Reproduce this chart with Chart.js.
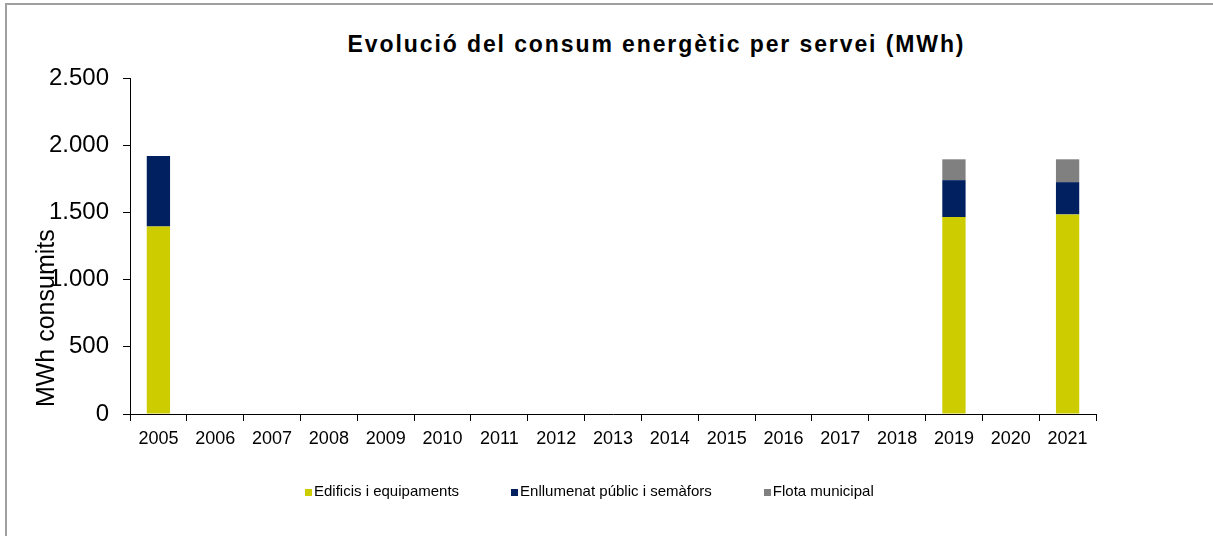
<!DOCTYPE html>
<html lang="ca">
<head>
<meta charset="UTF-8">
<title>Evolució del consum energètic per servei</title>
<script src="https://cdn.jsdelivr.net/npm/chart.js"></script>
<style>
    html, body { margin: 0; padding: 0; background: #fff; }
    #wrap { position: relative; width: 1213px; height: 536px; overflow: hidden; }
    #frame { position: absolute; left: 5px; top: 3px; width: 1300px; height: 600px;
             border-top: 2px solid #a0a0a0; border-left: 2px solid #a0a0a0; }
    #title { position: absolute; top: 31px; left: 0; width: 1313px; text-align: center;
             font: bold 23px "Liberation Sans", Arial, sans-serif; letter-spacing: 1.9px; color: #000; }
    #box { position: absolute; left: 0; top: 0; width: 1213px; height: 536px; }
    #legend { position: absolute; left: 305px; top: 482px; display: flex;
              font: 15px "Liberation Sans", Arial, sans-serif; color: #000; }
    #legend span.item { display: flex; align-items: center; margin-right: 52px; white-space: nowrap; }
    #legend i { display: inline-block; width: 7px; height: 7px; margin-right: 2px; margin-top: 3px; }
</style>
</head>
<body>
<div id="wrap">
    <div id="frame"></div>
    <div id="title">Evolució del consum energètic per servei (MWh)</div>
    <div id="box"><canvas id="chart"></canvas></div>
    <div id="legend"></div>
</div>

<script>
const years = ['2005', '2006', '2007', '2008', '2009', '2010', '2011', '2012', '2013',
    '2014', '2015', '2016', '2017', '2018', '2019', '2020', '2021'];

// MWh per servei, null = sense dades
const edificis    = [1395, null, null, null, null, null, null, null, null, null, null, null, null, null, 1465, null, 1485];
const enllumenat  = [525,  null, null, null, null, null, null, null, null, null, null, null, null, null, 275,  null, 240];
const flota       = [0,    null, null, null, null, null, null, null, null, null, null, null, null, null, 155,  null, 170];

const yTicks = [0, 500, 1000, 1500, 2000, 2500];

function fmt(v) {
    return String(v).replace(/\B(?=(\d{3})+(?!\d))/g, '.');
}

const font = "'Liberation Sans', Arial, sans-serif";

const chart = new Chart(document.getElementById('chart'), {
    type: 'bar',
    data: {
        labels: years,
        datasets: [
            {label: 'Edificis i equipaments', data: edificis, backgroundColor: '#cccc00'},
            {label: 'Enllumenat públic i semàfors', data: enllumenat, backgroundColor: '#002060'},
            {label: 'Flota municipal', data: flota, backgroundColor: '#808080'}
        ]
    },
    options: {
        responsive: true,
        maintainAspectRatio: false,
        animation: false,
        layout: {padding: {left: 18, right: 117, top: 78, bottom: 0}},
        datasets: {bar: {categoryPercentage: 1, barPercentage: 0.41}},
        scales: {
            x: {
                stacked: true,
                grid: {display: true, drawOnChartArea: false, color: '#000', tickLength: 7},
                border: {color: '#000', width: 1},
                ticks: {color: '#000', font: {family: font, size: 18}, padding: 7, maxRotation: 0, autoSkip: false},
                afterFit: axis => { axis.height = 122; }
            },
            y: {
                stacked: true,
                min: 0,
                max: 2500,
                afterBuildTicks: axis => { axis.ticks = yTicks.map(v => ({value: v})); },
                grid: {display: true, drawOnChartArea: false, color: '#000', tickLength: 7},
                border: {color: '#000', width: 1},
                ticks: {color: '#000', font: {family: font, size: 24}, padding: 14, callback: v => fmt(v)},
                title: {
                    display: true, text: '\u00a0MWh consumits', align: 'start',
                    color: '#000', font: {family: font, size: 25}, padding: {top: 14, bottom: 0}
                },
                afterFit: axis => { axis.width = 112; }
            }
        },
        plugins: {
            legend: {display: false},
            tooltip: {enabled: false}
        }
    }
});

// llegenda en HTML a partir dels datasets
const legend = document.getElementById('legend');
chart.data.datasets.forEach(ds => {
    const item = document.createElement('span');
    item.className = 'item';
    const sw = document.createElement('i');
    sw.style.background = ds.backgroundColor;
    item.appendChild(sw);
    item.appendChild(document.createTextNode(ds.label));
    legend.appendChild(item);
});
</script>
</body>
</html>
